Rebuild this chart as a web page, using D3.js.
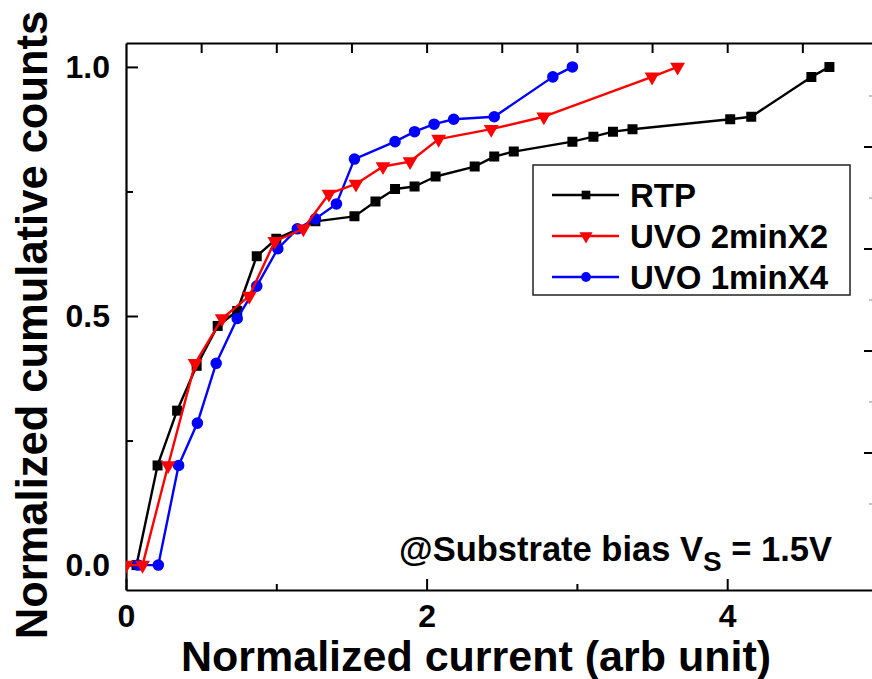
<!DOCTYPE html>
<html>
<head>
<meta charset="utf-8">
<script src="https://cdn.jsdelivr.net/npm/d3@7"></script>
<style>
  html, body { margin: 0; padding: 0; background: #fff; }
  svg { display: block; }
  text { font-family: "Liberation Sans", Arial, Helvetica, sans-serif; font-weight: bold; fill: #000; }
</style>
</head>
<body>
<svg id="chart" width="872" height="679"></svg>
<script>
// Cumulative distributions of normalized current for three surface treatments
const rtpX  = [0.07, 0.21, 0.34, 0.47, 0.61, 0.74, 0.87, 1.00, 1.26, 1.52, 1.66, 1.79, 1.92, 2.06, 2.32, 2.45, 2.58, 2.97, 3.11, 3.24, 3.37, 4.02, 4.16, 4.56, 4.68];
const rtpY  = [0.00, 0.20, 0.31, 0.40, 0.48, 0.51, 0.62, 0.655, 0.69, 0.70, 0.73, 0.755, 0.76, 0.78, 0.80, 0.82, 0.83, 0.85, 0.86, 0.87, 0.875, 0.895, 0.90, 0.98, 1.00];

const uvo2X = [0.00, 0.11, 0.28, 0.46, 0.64, 0.82, 0.99, 1.18, 1.35, 1.53, 1.71, 1.89, 2.08, 2.43, 2.78, 3.50, 3.67];
const uvo2Y = [0.00, 0.00, 0.20, 0.405, 0.495, 0.54, 0.65, 0.675, 0.745, 0.765, 0.80, 0.81, 0.855, 0.875, 0.90, 0.98, 1.00];

const uvo1X = [0.08, 0.215, 0.35, 0.475, 0.60, 0.74, 0.87, 1.01, 1.14, 1.26, 1.40, 1.52, 1.79, 1.92, 2.05, 2.18, 2.45, 2.84, 2.97];
const uvo1Y = [0.00, 0.00, 0.20, 0.285, 0.405, 0.495, 0.56, 0.635, 0.675, 0.695, 0.725, 0.815, 0.85, 0.87, 0.885, 0.895, 0.90, 0.98, 1.00];

const seriesNames  = ["RTP", "UVO 2minX2", "UVO 1minX4"];
const seriesColors = ["#000000", "#ff0000", "#0000ff"];
const seriesShapes = ["square", "triangleDown", "circle"];

const xMajorTicks = [0, 2, 4];
const xMinorTicks = [1, 3];
const xTopTicks   = [0.5, 1, 1.5, 2, 2.5, 3, 3.5, 4, 4.5];
const yMajorTicks = [0, 0.5, 1.0];
const yMinorTicks = [0.25, 0.75];

const xTitle = "Normalized current (arb unit)";
const yTitle = "Normalized cumulative counts";

const svg = d3.select("#chart");

// Plot frame
const plotLeft = 126, plotTop = 43, plotBottom = 590, plotRight = 877.5;
const x = d3.scaleLinear().domain([0, 5]).range([plotLeft, plotRight]);
const y = d3.scaleLinear().domain([-0.05, 1.048]).range([plotBottom, plotTop]);

svg.append("defs").append("clipPath").attr("id", "plotClip")
  .append("rect").attr("x", plotLeft).attr("y", plotTop)
  .attr("width", plotRight - plotLeft).attr("height", plotBottom - plotTop);

const axisStyle = g => {
  g.select(".domain").attr("stroke", "#000").attr("stroke-width", 2.2);
  g.selectAll(".tick line").attr("stroke", "#000").attr("stroke-width", 2);
};

// Bottom axis: labelled even ticks, short odd ticks
svg.append("g").attr("transform", `translate(0,${plotBottom})`)
  .call(d3.axisBottom(x).tickValues(xMajorTicks).tickSizeInner(-11).tickSizeOuter(0)
        .tickPadding(14).tickFormat(d3.format("d")))
  .call(axisStyle)
  .call(g => g.selectAll(".tick text").attr("font-size", 32).attr("dy", "0.71em")
        .style("font-family", "'Liberation Sans', Arial, sans-serif").style("font-weight", "bold"));
svg.append("g").attr("transform", `translate(0,${plotBottom})`)
  .call(d3.axisBottom(x).tickValues(xMinorTicks).tickSizeInner(-6).tickSizeOuter(0).tickFormat(""))
  .call(axisStyle).call(g => g.select(".domain").remove());

// Top frame line with inward ticks
svg.append("g").attr("transform", `translate(0,${plotTop})`)
  .call(d3.axisTop(x).tickValues(xTopTicks).tickSizeInner(-10).tickSizeOuter(0).tickFormat(""))
  .call(axisStyle);

// Left axis
svg.append("g").attr("transform", `translate(${plotLeft},0)`)
  .call(d3.axisLeft(y).tickValues(yMajorTicks).tickSizeInner(-12).tickSizeOuter(0)
        .tickPadding(16).tickFormat(d3.format(".1f")))
  .call(axisStyle)
  .call(g => g.selectAll(".tick text").attr("font-size", 32)
        .style("font-family", "'Liberation Sans', Arial, sans-serif").style("font-weight", "bold"));
svg.append("g").attr("transform", `translate(${plotLeft},0)`)
  .call(d3.axisLeft(y).tickValues(yMinorTicks).tickSizeInner(-7).tickSizeOuter(0).tickFormat(""))
  .call(axisStyle).call(g => g.select(".domain").remove());

// Tick marks of the neighbouring panel's axis at the right edge
const edgeTick = d3.scaleLinear().domain([0, 8]).range([96, 504]);
svg.append("g").selectAll("line").data(d3.range(9)).join("line")
  .attr("x1", d => d % 2 ? 864 : 869).attr("x2", 872)
  .attr("y1", d => edgeTick(d)).attr("y2", d => edgeTick(d))
  .attr("stroke", d => d % 2 ? "#000" : "#888").attr("stroke-width", d => d % 2 ? 2 : 1);

// Axis titles
svg.append("text").attr("x", 476).attr("y", 671).attr("text-anchor", "middle")
  .attr("font-size", 43).text(xTitle);
svg.append("text").attr("transform", "translate(47,325) rotate(-90)").attr("text-anchor", "middle")
  .attr("font-size", 43.5).text(yTitle);

// Markers
const symbolFor = {
  square: d3.symbol().type(d3.symbolSquare).size(100),
  circle: d3.symbol().type(d3.symbolCircle).size(105),
  triangleDown: d3.symbol().type(d3.symbolTriangle).size(95)
};
function drawMarker(sel, shape, color) {
  sel.append("path").attr("d", symbolFor[shape]())
    .attr("fill", color).attr("stroke", "none")
    .attr("transform", shape === "triangleDown" ? "rotate(180)" : null);
}

const data = [
  { xs: rtpX,  ys: rtpY,  i: 0 },
  { xs: uvo1X, ys: uvo1Y, i: 2 },
  { xs: uvo2X, ys: uvo2Y, i: 1 }
];

const plot = svg.append("g").attr("clip-path", "url(#plotClip)");
const line = d3.line().x(d => x(d[0])).y(d => y(d[1]));

data.forEach(s => {
  const pts = s.xs.map((v, k) => [v, s.ys[k]]);
  const color = seriesColors[s.i];
  plot.append("path").datum(pts).attr("d", line)
    .attr("fill", "none").attr("stroke", color).attr("stroke-width", 2.4)
    .attr("stroke-linejoin", "round");
  plot.append("g").selectAll("g").data(pts).join("g")
    .attr("transform", d => `translate(${x(d[0])},${y(d[1])})`)
    .each(function () { drawMarker(d3.select(this), seriesShapes[s.i], color); });
});

// Legend
const legend = svg.append("g");
legend.append("rect").attr("x", 533).attr("y", 165).attr("width", 317).attr("height", 130)
  .attr("fill", "#fff").attr("stroke", "#222").attr("stroke-width", 1.5);
const legendRow = d3.scaleLinear().domain([0, 2]).range([195, 277]);
seriesNames.forEach((name, i) => {
  const ly = legendRow(i);
  legend.append("line").attr("x1", 552).attr("x2", 619).attr("y1", ly).attr("y2", ly)
    .attr("stroke", seriesColors[i]).attr("stroke-width", 2.4);
  const m = legend.append("g").attr("transform", `translate(586,${ly})`);
  m.append("path").attr("d", d3.symbol().type(
      seriesShapes[i] === "square" ? d3.symbolSquare :
      seriesShapes[i] === "circle" ? d3.symbolCircle : d3.symbolTriangle).size(75)())
    .attr("fill", seriesColors[i])
    .attr("transform", seriesShapes[i] === "triangleDown" ? "rotate(180)" : null);
  legend.append("text").attr("x", 630).attr("y", ly + 12).attr("font-size", 33).text(name);
});

// Measurement condition note
const note = svg.append("text").attr("x", 399).attr("y", 561).attr("font-size", 34.5);
note.append("tspan").text("@Substrate bias V");
note.append("tspan").attr("font-size", 28).attr("dy", 10).text("S");
note.append("tspan").attr("dy", -10).text(" = 1.5V");
</script>
</body>
</html>
